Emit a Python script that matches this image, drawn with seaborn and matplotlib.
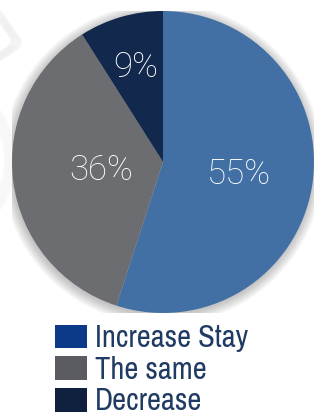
import numpy as np
import matplotlib
matplotlib.use("Agg")
import matplotlib.pyplot as plt
from matplotlib.patches import Patch, Circle, FancyBboxPatch
from matplotlib import font_manager
import seaborn as sns

labels = ["Increase Stay", "The same", "Decrease"]
values = [55, 36, 9]
pie_colors = ["#4270a4", "#6c6d71", "#12294d"]
legend_colors = ["#0c3a88", "#5b5c61", "#0f1f3e"]
label_radius = [0.51, 0.41, 0.65]

sns.set_theme(style="white")
plt.rcParams["font.family"] = ["Roboto", "DejaVu Sans"]

# a condensed face for the legend if one is around
fonts = font_manager.fontManager.ttflist
cond = [f.name for f in fonts if "Condensed" in f.name or "Narrow" in f.name]
if cond:
    leg_prop = {"family": cond[0], "size": 22}
else:
    leg_prop = {"family": "DejaVu Sans", "stretch": "condensed", "size": 19}

W, H = 314, 418
fig = plt.figure(figsize=(W / 100, H / 100), dpi=100)
fig.patch.set_facecolor("white")

# faint shadows of a neighbouring graphic cut off at the left
bg = fig.add_axes([0, 0, 1, 1])
bg.set_xlim(0, W)
bg.set_ylim(H, 0)
bg.axis("off")
rot = matplotlib.transforms.Affine2D().rotate_deg_around(0, 40, -35) + bg.transData
for k in range(8):
    bg.add_patch(FancyBboxPatch((-40 - k, 20 - k), 50 + 2 * k, 30 + 2 * k,
                                boxstyle="round,pad=0,rounding_size=8", transform=rot,
                                fc="none", ec="#9a9a9a", lw=2, alpha=0.05))
for k in range(8):
    bg.add_patch(Circle((-70, 160), 75 + k * 1.5, fc="none", ec="#8a8a8a", lw=2, alpha=0.03))

# pie
cx, cy, r = 163, 162, 151
ax = fig.add_axes([(cx - r) / W, (H - cy - r) / H, 2 * r / W, 2 * r / H])

for k in range(12):
    ax.add_patch(Circle((-0.005, -0.012), 1.0 + k * 0.006, fc="#555555", alpha=0.03, lw=0, zorder=0))

wedges, _ = ax.pie(values, colors=pie_colors, startangle=90, counterclock=False,
                   radius=1.0, wedgeprops=dict(linewidth=0))
for w in wedges:
    w.set_zorder(2)
ax.set_xlim(-1, 1)
ax.set_ylim(-1, 1)
ax.set_aspect("equal")
ax.axis("off")

for w, v, rr in zip(wedges, values, label_radius):
    mid = np.deg2rad((w.theta1 + w.theta2) / 2)
    ax.text(rr * np.cos(mid), rr * np.sin(mid), f"{v}%", color="white",
            fontsize=25, fontweight="light", ha="center", va="center", zorder=3)

handles = [Patch(facecolor=c, edgecolor="none") for c in legend_colors]
fig.legend(handles, labels, loc="upper left", bbox_to_anchor=(55 / W, 1 - 324 / H),
           frameon=False, prop=leg_prop,
           labelcolor="#1f3b63", handlelength=1.05, handleheight=0.82,
           handletextpad=0.25, labelspacing=0.12, borderpad=0, borderaxespad=0)

fig.savefig("out.png", dpi=100, facecolor="white")
